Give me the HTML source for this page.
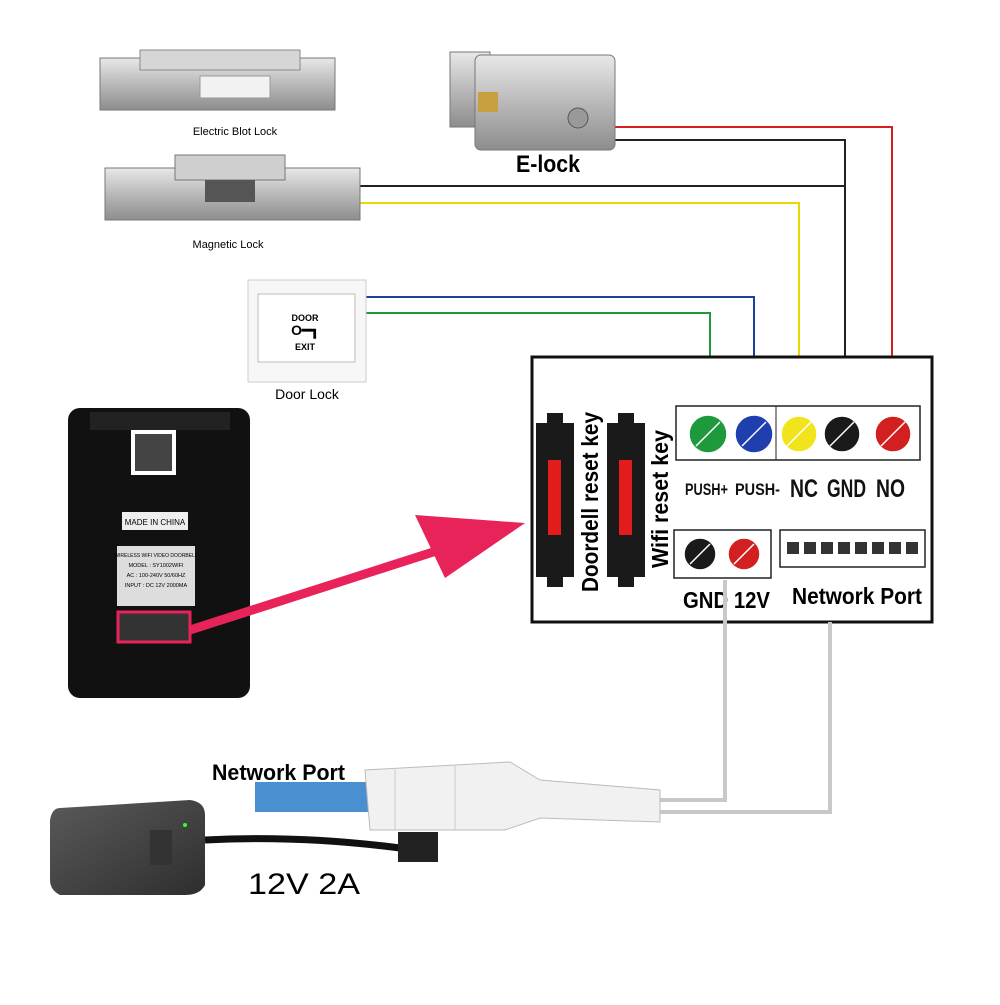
<!DOCTYPE html>
<html><head><style>
body{margin:0;width:1000px;height:1000px;background:#fff;overflow:hidden;font-family:"Liberation Sans",sans-serif}
</style></head><body>
<svg width="1000" height="1000" viewBox="0 0 1000 1000" xmlns="http://www.w3.org/2000/svg" font-family="Liberation Sans, sans-serif">
<defs>
<linearGradient id="silver" x1="0" y1="0" x2="0" y2="1"><stop offset="0" stop-color="#e8e8e8"/><stop offset="0.5" stop-color="#b9b9b9"/><stop offset="1" stop-color="#8d8d8d"/></linearGradient>
<linearGradient id="dark" x1="0" y1="0" x2="1" y2="1"><stop offset="0" stop-color="#5a5a5a"/><stop offset="1" stop-color="#2e2e2e"/></linearGradient>
</defs>
<g fill="none" stroke-width="2">
<polyline points="612,127 892,127 892,418" stroke="#d62020"/>
<polyline points="610,140 845,140 845,418" stroke="#222"/>
<polyline points="360,186 845,186" stroke="#222"/>
<polyline points="360,203 799,203 799,418" stroke="#e8d800"/>
<polyline points="365,297 754,297 754,418" stroke="#1d3f9e"/>
<polyline points="365,313 710,313 710,418" stroke="#1f9a3a"/>
</g>
<rect x="100" y="58" width="235" height="52" fill="url(#silver)" stroke="#777"/>
<rect x="140" y="50" width="160" height="20" fill="#d6d6d6" stroke="#888"/>
<rect x="200" y="76" width="70" height="22" fill="#f2f2f2" stroke="#999"/>
<text x="235" y="135" font-size="11" text-anchor="middle">Electric Blot Lock</text>
<rect x="105" y="168" width="255" height="52" fill="url(#silver)" stroke="#777"/>
<rect x="175" y="155" width="110" height="25" fill="#cfcfcf" stroke="#777"/>
<rect x="205" y="180" width="50" height="22" fill="#555"/>
<text x="228" y="248" font-size="11" text-anchor="middle">Magnetic Lock</text>
<rect x="450" y="52" width="40" height="75" fill="url(#silver)" stroke="#777"/>
<rect x="475" y="55" width="140" height="95" rx="6" fill="url(#silver)" stroke="#777"/>
<rect x="478" y="92" width="20" height="20" fill="#c8a040"/>
<circle cx="578" cy="118" r="10" fill="#999" stroke="#555"/>
<text x="516" y="172" font-size="24" font-weight="bold" textLength="64" lengthAdjust="spacingAndGlyphs">E-lock</text>
<rect x="248" y="280" width="118" height="102" fill="#f7f7f7" stroke="#ccc"/>
<rect x="258" y="294" width="97" height="68" fill="#fff" stroke="#bbb"/>
<text x="305" y="321" font-size="9" font-weight="bold" text-anchor="middle">DOOR</text>
<text x="305" y="335" font-size="14" font-weight="bold" text-anchor="middle">O━┓</text>
<text x="305" y="350" font-size="9" font-weight="bold" text-anchor="middle">EXIT</text>
<text x="307" y="399" font-size="14" text-anchor="middle">Door Lock</text>
<rect x="68" y="408" width="182" height="290" rx="12" fill="#111"/>
<rect x="90" y="412" width="140" height="18" fill="#222"/>
<rect x="131" y="430" width="45" height="45" fill="#fff"/>
<rect x="135" y="434" width="37" height="37" fill="#444"/>
<rect x="122" y="512" width="66" height="18" fill="#eee"/>
<text x="155" y="525" font-size="8" text-anchor="middle">MADE IN CHINA</text>
<rect x="117" y="546" width="78" height="60" fill="#ddd"/>
<text x="156" y="557" font-size="5" text-anchor="middle">WIRELESS WIFI VIDEO DOORBELL</text>
<text x="156" y="567" font-size="5.5" text-anchor="middle">MODEL : SY1002WIFI</text>
<text x="156" y="577" font-size="5.5" text-anchor="middle">AC : 100-240V 50/60HZ</text>
<text x="156" y="587" font-size="5.5" text-anchor="middle">INPUT : DC 12V   2000MA</text>
<rect x="118" y="612" width="72" height="30" fill="#333" stroke="#e8235a" stroke-width="3"/>
<line x1="190" y1="630" x2="455" y2="545" stroke="#e8235a" stroke-width="9"/>
<polygon points="525,523 415,515 445,578" fill="#e8235a"/>
<rect x="532" y="357" width="400" height="265" fill="#fff" stroke="#111" stroke-width="3"/>
<g fill="#1a1a1a">
<rect x="547" y="413" width="16" height="174"/><rect x="536" y="423" width="38" height="154"/>
<rect x="618" y="413" width="16" height="174"/><rect x="607" y="423" width="38" height="154"/>
</g>
<rect x="548" y="460" width="13" height="75" fill="#e21b1b"/>
<rect x="619" y="460" width="13" height="75" fill="#e21b1b"/>
<text transform="translate(598,592) rotate(-90)" font-size="23" font-weight="bold" textLength="180" lengthAdjust="spacingAndGlyphs">Doordell reset key</text>
<text transform="translate(668,568) rotate(-90)" font-size="23" font-weight="bold" textLength="138" lengthAdjust="spacingAndGlyphs">Wifi reset key</text>
<rect x="676" y="406" width="244" height="54" fill="#fff" stroke="#222" stroke-width="1.5"/>
<line x1="776" y1="406" x2="776" y2="460" stroke="#222"/>
<g stroke="#fff" stroke-width="1.5">
<circle cx="708" cy="434" r="19" fill="#1e9a3c"/><line x1="696" y1="446" x2="720" y2="422"/>
<circle cx="754" cy="434" r="19" fill="#1f3fae"/><line x1="742" y1="446" x2="766" y2="422"/>
<circle cx="799" cy="434" r="18" fill="#f2e41c"/><line x1="787" y1="446" x2="811" y2="422"/>
<circle cx="842" cy="434" r="18" fill="#1a1a1a"/><line x1="830" y1="446" x2="854" y2="422"/>
<circle cx="893" cy="434" r="18" fill="#d22020"/><line x1="881" y1="446" x2="905" y2="422"/>
</g>
<g font-weight="bold" fill="#111" lengthAdjust="spacingAndGlyphs">
<text x="685" y="495" font-size="17" textLength="43" lengthAdjust="spacingAndGlyphs">PUSH+</text>
<text x="735" y="495" font-size="17" textLength="45" lengthAdjust="spacingAndGlyphs">PUSH-</text>
<text x="790" y="497" font-size="25" textLength="28" lengthAdjust="spacingAndGlyphs">NC</text>
<text x="827" y="497" font-size="25" textLength="39" lengthAdjust="spacingAndGlyphs">GND</text>
<text x="876" y="497" font-size="25" textLength="29" lengthAdjust="spacingAndGlyphs">NO</text>
</g>
<rect x="674" y="530" width="97" height="48" fill="#fff" stroke="#222" stroke-width="1.5"/>
<g stroke="#fff" stroke-width="1.5">
<circle cx="700" cy="554" r="16" fill="#1a1a1a"/><line x1="690" y1="564" x2="710" y2="544"/>
<circle cx="744" cy="554" r="16" fill="#d22020"/><line x1="734" y1="564" x2="754" y2="544"/>
</g>
<rect x="780" y="530" width="145" height="37" fill="#fff" stroke="#222" stroke-width="1.5"/>
<g fill="#333">
<rect x="787" y="542" width="12" height="12"/><rect x="804" y="542" width="12" height="12"/><rect x="821" y="542" width="12" height="12"/><rect x="838" y="542" width="12" height="12"/><rect x="855" y="542" width="12" height="12"/><rect x="872" y="542" width="12" height="12"/><rect x="889" y="542" width="12" height="12"/><rect x="906" y="542" width="12" height="12"/>
</g>
<text x="683" y="608" font-size="23" font-weight="bold" textLength="87" lengthAdjust="spacingAndGlyphs">GND 12V</text>
<text x="792" y="604" font-size="23" font-weight="bold" textLength="130" lengthAdjust="spacingAndGlyphs">Network Port</text>
<g fill="none" stroke="#c8c8c8" stroke-width="4">
<polyline points="725,580 725,800 660,800"/>
<polyline points="830,622 830,812 660,812"/>
</g>
<rect x="255" y="782" width="120" height="30" fill="#4a8fd0"/>
<path d="M365,770 L510,762 L540,780 L660,790 L660,822 L540,818 L505,830 L370,830 Z" fill="#f1f1f1" stroke="#bbb"/>
<line x1="395" y1="768" x2="395" y2="830" stroke="#ccc"/>
<line x1="455" y1="765" x2="455" y2="830" stroke="#ccc"/>
<text x="212" y="780" font-size="22" font-weight="bold" textLength="133" lengthAdjust="spacingAndGlyphs">Network Port</text>
<path d="M60,808 L190,800 Q205,802 205,815 L205,885 Q200,895 185,895 L60,895 Q50,890 50,880 L50,820 Q52,808 60,808 Z" fill="url(#dark)"/>
<rect x="150" y="830" width="22" height="35" fill="#333"/>
<circle cx="185" cy="825" r="2" fill="#3f3"/>
<path d="M205,840 Q300,835 400,848" stroke="#111" stroke-width="7" fill="none"/>
<rect x="398" y="832" width="40" height="30" fill="#222"/>
<text x="248" y="894" font-size="30" textLength="112" lengthAdjust="spacingAndGlyphs">12V  2A</text>
</svg>
</body></html>
